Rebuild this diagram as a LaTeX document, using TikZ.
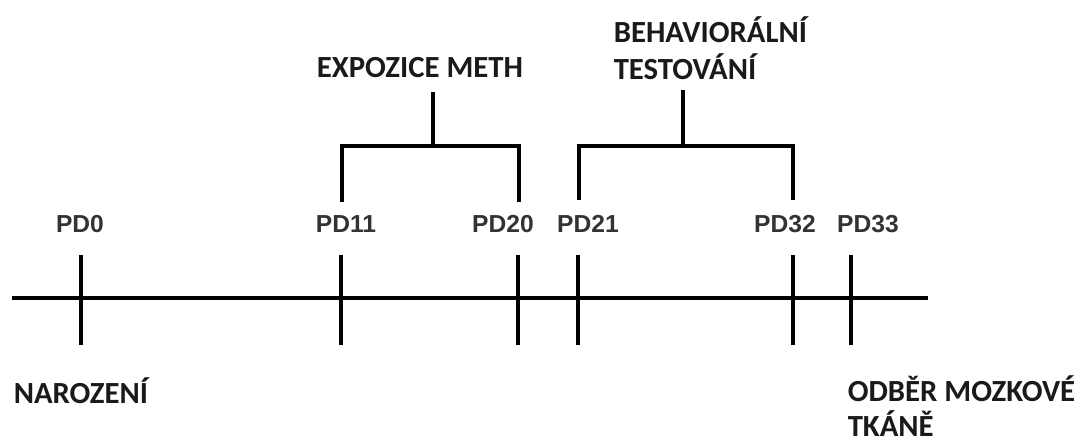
\documentclass[tikz,border=0pt]{standalone}
\usepackage{fontspec}
\usepackage{xcolor}
\usetikzlibrary{positioning}
\newfontfamily\arialfont{Liberation Sans}
\newfontfamily\calibrifont{Carlito}
\definecolor{daygray}{HTML}{333333}
\definecolor{phaseblack}{HTML}{1A1A1A}

\begin{document}
\begin{tikzpicture}[x=0.02cm, y=-0.02cm, line width=2pt,
    daylbl/.style={font=\fontsize{14}{16}\selectfont\arialfont\bfseries,
                   text=daygray, inner sep=0pt},
    phaselbl/.style={font=\fontsize{17.5}{21}\selectfont\calibrifont\bfseries,
                     text=phaseblack, inner sep=0pt, align=left}]
  \useasboundingbox (0,0) rectangle (1089,443);

  % time axis
  \coordinate (start) at (12,298);
  \coordinate (end) at (928,298);
  \draw (start) -- (end);

  % day ticks and labels
  \foreach \nm/\xx/\lx/\lbl in {d0/81/80/PD0, d11/341/346/PD11, d20/518/503/PD20,
                                d21/578/588/PD21, d32/793/785/PD32, d33/851/868/PD33} {
    \coordinate (\nm-top) at (\xx,255);
    \coordinate (\nm-bot) at (\xx,345);
    \draw (\nm-top) -- (\nm-bot);
    \node[daylbl] (\nm-lbl) at (\lx,224) {\lbl};
  }

  % exposure bracket
  \coordinate (exL) at (342,202);
  \coordinate (exLt) at (342,146);
  \coordinate (exRt) at (519,146);
  \coordinate (exR) at (519,202);
  \coordinate (exMid) at (433,146);
  \coordinate (exTop) at (433,92);
  \draw (exL) -- (exLt) -- (exRt) -- (exR);
  \draw (exMid) -- (exTop);
  \node[phaselbl] (expo) at (420,68) {EXPOZICE METH};

  % behavioural testing bracket
  \coordinate (beL) at (579,200);
  \coordinate (beLt) at (579,146);
  \coordinate (beRt) at (793,146);
  \coordinate (beR) at (793,200);
  \coordinate (beMid) at (683,146);
  \coordinate (beTop) at (683,90);
  \draw (beL) -- (beLt) -- (beRt) -- (beR);
  \draw (beMid) -- (beTop);
  \node[phaselbl, anchor=west] (behav) at (612,48) {BEHAVIORÁLNÍ\\TESTOVÁNÍ};

  % events
  \node[phaselbl, anchor=west] (birth) at (12,391) {NAROZENÍ};
  \node[phaselbl, anchor=west] (harvest) at (846,406) {ODBĚR MOZKOVÉ\\[-1pt]TKÁNĚ};
\end{tikzpicture}
\end{document}
